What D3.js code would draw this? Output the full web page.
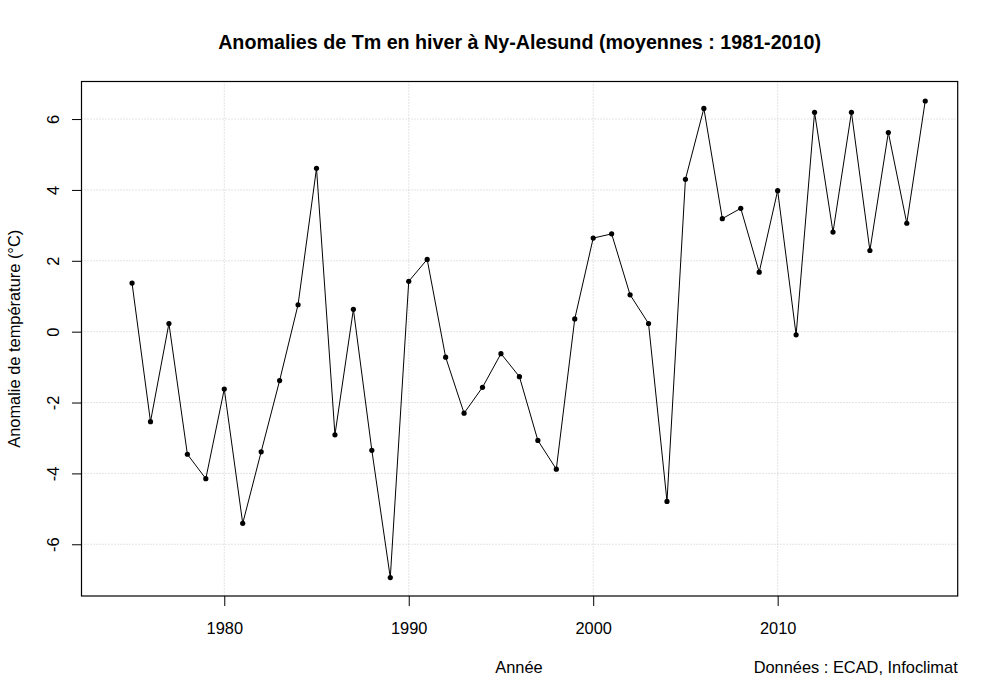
<!DOCTYPE html>
<html><head><meta charset="utf-8">
<script src="https://cdn.jsdelivr.net/npm/d3@7"></script>
<style>body{margin:0;background:#fff}svg{display:block;font-family:"Liberation Sans",Arial,sans-serif}</style>
</head><body>
<script>
const years = d3.range(1975, 2019);
const anomalies = [1.37,-2.54,0.23,-3.46,-4.15,-1.62,-5.41,-3.39,-1.38,0.76,
  4.61,-2.91,0.63,-3.35,-6.94,1.42,2.04,-0.72,-2.30,-1.57,
  -0.62,-1.27,-3.07,-3.88,0.36,2.64,2.76,1.04,0.23,-4.79,
  4.30,6.30,3.19,3.48,1.68,3.98,-0.09,6.19,2.81,6.19,
  2.29,5.62,3.06,6.51];
const xTicks = [1980, 1990, 2000, 2010];
const yTicks = [-6, -4, -2, 0, 2, 4, 6];
const title = "Anomalies de Tm en hiver à Ny-Alesund (moyennes : 1981-2010)";
const xLabel = "Année";
const yLabel = "Anomalie de température (°C)";
const source = "Données : ECAD, Infoclimat";

const W = 1000, H = 699;
const L = 81.5, R = 957.7, T = 81.5, B = 596;
const FS = 16.4;
const svg = d3.select("body").append("svg").attr("width", W).attr("height", H);
const x = d3.scaleLinear().domain([1972.26, 2019.76]).range([L, R]);
const y = d3.scaleLinear().domain([-7.46, 7.06]).range([B, T]);

// grid
svg.append("g").selectAll("line").data(xTicks).join("line")
  .attr("x1", d => x(d)).attr("x2", d => x(d)).attr("y1", T).attr("y2", B)
  .attr("stroke", "#c8c8c8").attr("stroke-dasharray", "1,2");
svg.append("g").selectAll("line").data(yTicks).join("line")
  .attr("y1", d => y(d)).attr("y2", d => y(d)).attr("x1", L).attr("x2", R)
  .attr("stroke", "#c8c8c8").attr("stroke-dasharray", "1,2");

// axes
const xAxis = svg.append("g").attr("transform", `translate(0,${B})`)
  .call(d3.axisBottom(x).tickValues(xTicks).tickFormat(d3.format("d")).tickSize(10).tickPadding(14));
const yAxis = svg.append("g").attr("transform", `translate(${L},0)`)
  .call(d3.axisLeft(y).tickValues(yTicks).tickFormat(d => d < 0 ? "-" + Math.abs(d) : d).tickSize(9.5));
[xAxis, yAxis].forEach(g => {
  g.select(".domain").remove();
  g.selectAll("line").attr("stroke", "#000");
  g.selectAll("text").attr("font-size", FS).attr("fill", "#000").attr("font-family", '"Liberation Sans",Arial,sans-serif');
});
xAxis.selectAll("text").attr("dy", null).attr("dominant-baseline", null).attr("y", 38);
yAxis.selectAll("text")
  .attr("x", null).attr("dy", null)
  .attr("text-anchor", "middle")
  .attr("transform", `translate(${59 - L},0) rotate(-90)`);

// box
svg.append("rect").attr("x", L).attr("y", T).attr("width", R - L).attr("height", B - T)
  .attr("fill", "none").attr("stroke", "#000").attr("stroke-width", 1.2);

// line + points
const data = years.map((yr, i) => ({yr, v: anomalies[i]}));
svg.append("path").datum(data)
  .attr("d", d3.line().x(d => x(d.yr)).y(d => y(d.v)))
  .attr("fill", "none").attr("stroke", "#000").attr("stroke-width", 1);
svg.append("g").selectAll("circle").data(data).join("circle")
  .attr("cx", d => x(d.yr)).attr("cy", d => y(d.v)).attr("r", 2.6).attr("fill", "#000");

// texts
svg.append("text").attr("x", (L + R) / 2).attr("y", 49).attr("text-anchor", "middle")
  .attr("font-size", 19.7).attr("font-weight", "bold").text(title);
svg.append("text").attr("x", 519).attr("y", 673).attr("text-anchor", "middle")
  .attr("font-size", FS).text(xLabel);
svg.append("text").attr("x", R).attr("y", 673).attr("text-anchor", "end")
  .attr("font-size", FS).text(source);
svg.append("text").attr("transform", `translate(20,${(T + B) / 2}) rotate(-90)`)
  .attr("text-anchor", "middle").attr("font-size", FS).text(yLabel);
</script>
</body></html>
